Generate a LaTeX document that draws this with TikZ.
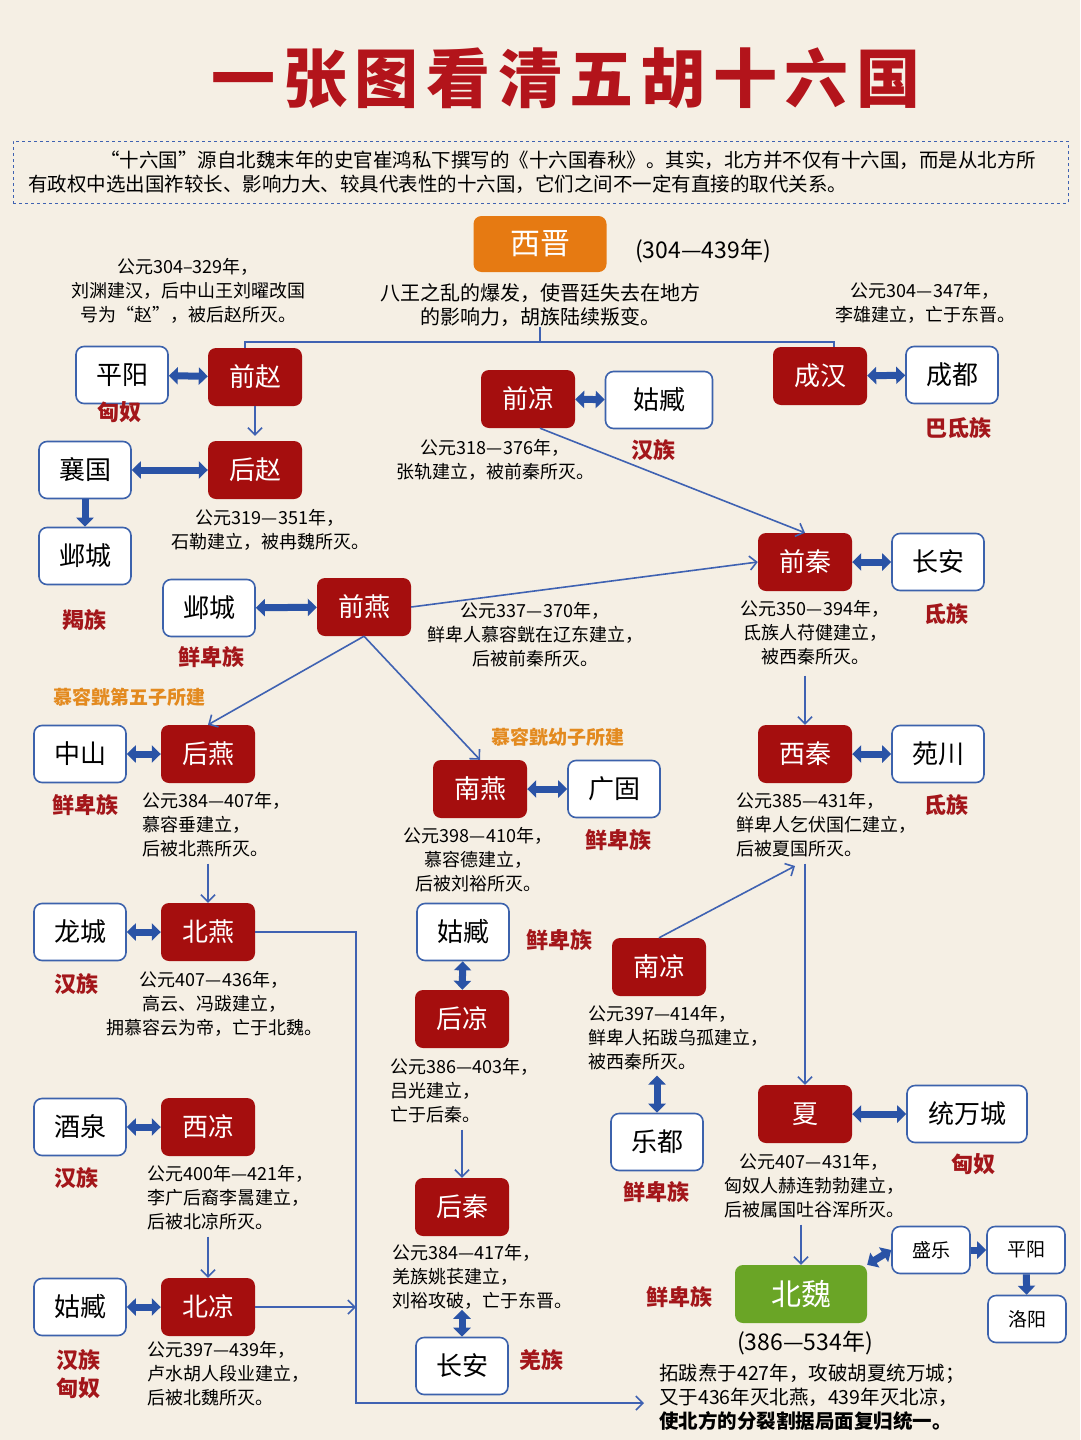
\documentclass[tikz,border=0pt]{standalone}
\usepackage{fontspec}
\setmainfont{Noto Sans CJK SC}
\usetikzlibrary{arrows.meta,positioning}
\definecolor{bgcream}{HTML}{F5EFE4}
\definecolor{kingred}{HTML}{A50E0E}
\definecolor{cityblue}{HTML}{3C62AC}
\definecolor{arrblue}{HTML}{2A53A6}
\definecolor{lineblue}{HTML}{3F62B2}
\definecolor{tribered}{HTML}{A3161A}
\definecolor{sonorange}{HTML}{E38A1F}
\definecolor{jinorange}{HTML}{E67A12}
\definecolor{weigreen}{HTML}{6AA526}
\definecolor{titlered}{HTML}{B3141B}
\newcommand{\fsz}[2]{\fontsize{#1}{#2}\selectfont}
\tikzset{
  kingdom/.style={fill=kingred,rounded corners=8pt,text=white,minimum width=94pt,minimum height=58pt,inner sep=0pt,font=\fsz{26}{30}},
  city/.style={draw=cityblue,line width=1.6pt,fill=white,rounded corners=8pt,minimum width=92pt,minimum height=57pt,inner sep=0pt,font=\fsz{26}{30}},
  smallcity/.style={city,minimum width=78pt,minimum height=47pt,font=\fsz{19}{22}},
  tribe/.style={text=tribered,inner sep=0pt,font=\bfseries\fsz{22}{28}},
  founder/.style={text=sonorange,inner sep=0pt,font=\bfseries\fsz{19}{22}},
  note/.style={align=center,inner sep=0pt,font=\fsz{18}{24}},
  lnote/.style={note,align=left,anchor=west},
  twoway/.style={{Triangle[width=17pt,length=9pt]}-{Triangle[width=17pt,length=9pt]},line width=7pt,arrblue},
  oneway/.style={-{Triangle[width=17pt,length=9pt]},line width=7pt,arrblue},
  thinline/.style={line width=1.6pt,lineblue},
  thinarr/.style={thinline,-{Straight Barb[length=7pt,width=14pt]}}
}
\begin{document}
\begin{tikzpicture}[x=1pt,y=-1pt]
\useasboundingbox (0,0) rectangle (1080,1440);
\fill[bgcream] (0,0) rectangle (1080,1440);

\node[text=titlered,font=\bfseries\fsz{64}{70}\addfontfeature{LetterSpace=12}] (title) at (566,78) {一张图看清五胡十六国};
\node[draw=lineblue,dashed,line width=1pt,minimum width=1055pt,minimum height=62pt,inner sep=0pt] (introbox) at (540.5,172) {};
\node[anchor=west,inner sep=0pt,font=\fsz{19.5}{24}] (intro1) at (100,160) {“十六国”源自北魏末年的史官崔鸿私下撰写的《十六国春秋》。其实，北方并不仅有十六国，而是从北方所};
\node[anchor=west,inner sep=0pt,font=\fsz{19.5}{24}] (intro2) at (28,184) {有政权中选出国祚较长、影响力大、较具代表性的十六国，它们之间不一定有直接的取代关系。};

\node[kingdom,fill=jinorange,minimum width=133pt,minimum height=56pt,font=\fsz{30}{34}] (xijin) at (540,244) {西晋};
\node[inner sep=0pt,font=\fsz{23}{26}] (xijinyear) at (703,251) {(304—439年)};
\node[note,font=\fsz{20}{24}] (xijinnote) at (540,305) {八王之乱的爆发，使晋廷失去在地方\\的影响力，胡族陆续叛变。};

\node[kingdom] (qianzhao) at (255,377) {前赵};
\node[kingdom] (houzhao) at (255,470) {后赵};
\node[kingdom] (qianliang) at (528,399) {前凉};
\node[kingdom] (chenghan) at (820,376) {成汉};
\node[kingdom] (qianqin) at (805,562) {前秦};
\node[kingdom] (qianyan) at (364,607) {前燕};
\node[kingdom] (houyan) at (208,754) {后燕};
\node[kingdom] (nanyan) at (480,789) {南燕};
\node[kingdom] (xiqin) at (805,754) {西秦};
\node[kingdom] (beiyan) at (208,932) {北燕};
\node[kingdom] (houliang) at (462,1019) {后凉};
\node[kingdom] (nanliang) at (659,967) {南凉};
\node[kingdom] (xiliang) at (208,1127) {西凉};
\node[kingdom] (houqin) at (462,1207) {后秦};
\node[kingdom] (xia) at (805,1114) {夏};
\node[kingdom] (beiliang) at (208,1307) {北凉};
\node[kingdom,fill=weigreen,minimum width=132pt,font=\fsz{30}{34}] (beiwei) at (801,1294) {北魏};

\node[city] (pingyang) at (122,375) {平阳};
\node[city] (xiangguo) at (85,470) {襄国};
\node[city] (yecheng) at (85,556) {邺城};
\node[city] (yecheng2) at (209,608) {邺城};
\node[city,minimum width=107pt] (guzang) at (659,400) {姑臧};
\node[city] (chengdu) at (952,375) {成都};
\node[city] (changan) at (938,562) {长安};
\node[city] (yuanchuan) at (938,754) {苑川};
\node[city] (zhongshan) at (80,754) {中山};
\node[city] (guanggu) at (614,789) {广固};
\node[city] (longcheng) at (80,932) {龙城};
\node[city] (guzang2) at (463,932) {姑臧};
\node[city] (jiuquan) at (80,1127) {酒泉};
\node[city] (guzang3) at (80,1307) {姑臧};
\node[city] (changan2) at (462,1366) {长安};
\node[city] (ledu) at (657,1142) {乐都};
\node[city,minimum width=120pt] (tongwan) at (967,1114) {统万城};
\node[smallcity] (shengle) at (931,1250) {盛乐};
\node[smallcity] (pingyang2) at (1026,1250) {平阳};
\node[smallcity] (luoyang) at (1027,1319) {洛阳};

\node[note] (qianzhaonote) at (188,291) {公元304–329年，\\刘渊建汉，后中山王刘曜改国\\号为“赵”，被后赵所灭。};
\node[note] (chenghannote) at (925,303) {公元304—347年，\\李雄建立，亡于东晋。};
\node[note] (qianliangnote) at (495,460) {公元318—376年，\\张轨建立，被前秦所灭。};
\node[note] (houzhaonote) at (270,530) {公元319—351年，\\石勒建立，被冉魏所灭。};
\node[note] (qianyannote) at (535,635) {公元337—370年，\\鲜卑人慕容皝在辽东建立，\\后被前秦所灭。};
\node[note] (qianqinnote) at (815,633) {公元350—394年，\\氐族人苻健建立，\\被西秦所灭。};
\node[lnote] (houyannote) at (142,825) {公元384—407年，\\慕容垂建立，\\后被北燕所灭。};
\node[note] (nanyannote) at (478,860) {公元398—410年，\\慕容德建立，\\后被刘裕所灭。};
\node[lnote] (xiqinnote) at (736,825) {公元385—431年，\\鲜卑人乞伏国仁建立，\\后被夏国所灭。};
\node[note] (beiyannote) at (214,1004) {公元407—436年，\\高云、冯跋建立，\\拥慕容云为帝，亡于北魏。};
\node[lnote] (houliangnote) at (390,1091) {公元386—403年，\\吕光建立，\\亡于后秦。};
\node[lnote] (nanliangnote) at (588,1038) {公元397—414年，\\鲜卑人拓跋乌孤建立，\\被西秦所灭。};
\node[lnote] (xiliangnote) at (147,1198) {公元400年—421年，\\李广后裔李暠建立，\\后被北凉所灭。};
\node[lnote] (houqinnote) at (392,1277) {公元384—417年，\\羌族姚苌建立，\\刘裕攻破，亡于东晋。};
\node[note] (xianote) at (814,1186) {公元407—431年，\\匈奴人赫连勃勃建立，\\后被属国吐谷浑所灭。};
\node[lnote] (beiliangnote) at (147,1374) {公元397—439年，\\卢水胡人段业建立，\\后被北魏所灭。};
\node[inner sep=0pt,font=\fsz{23}{26}] (beiweiyear) at (805,1343) {(386—534年)};
\node[lnote,font=\fsz{19.5}{24}] (beiweinote) at (659,1397) {拓跋焘于427年，攻破胡夏统万城；\\又于436年灭北燕，439年灭北凉，\\\textbf{使北方的分裂割据局面复归统一。}};

\node[tribe] (xiongnu1) at (119,412) {匈奴};
\node[tribe] (jie) at (84,620) {羯族};
\node[tribe] (xianbei1) at (211,657) {鲜卑族};
\node[tribe] (han1) at (653,450) {汉族};
\node[tribe] (badi) at (958,428) {巴氐族};
\node[tribe] (di1) at (946,614) {氐族};
\node[tribe] (di2) at (946,805) {氐族};
\node[tribe] (xianbei2) at (85,805) {鲜卑族};
\node[tribe] (xianbei3) at (618,840) {鲜卑族};
\node[tribe] (han2) at (76,984) {汉族};
\node[tribe] (xianbei4) at (559,940) {鲜卑族};
\node[tribe] (han3) at (76,1178) {汉族};
\node[tribe] (xianbei5) at (656,1192) {鲜卑族};
\node[tribe] (xiongnu2) at (973,1164) {匈奴};
\node[tribe,align=center] (hanxiongnu) at (78,1374) {汉族\\匈奴};
\node[tribe] (qiang) at (541,1360) {羌族};
\node[tribe] (xianbei6) at (679,1297) {鲜卑族};
\node[founder] (fifthson) at (129,697) {慕容皝第五子所建};
\node[founder] (youngson) at (558,737) {慕容皝幼子所建};

\coordinate (jinbar) at (540,342);
\draw[thinline] (xijinnote.south) -- (jinbar);
\draw[thinline] ([xshift=-10pt]qianzhao.north) |- (jinbar) -| ([xshift=14pt]chenghan.north);
\draw[thinarr,shorten >=5pt] (qianzhao) -- (houzhao);
\draw[thinarr] ([xshift=12pt]qianliang.south) -- (qianqin.north);
\draw[thinarr] (qianyan.east) -- (qianqin.west);
\draw[thinarr] (qianyan.south) -- (houyan.north);
\draw[thinarr] (qianyan.south) -- (nanyan.north);
\draw[thinarr,shorten <=10pt] (xiqin.north |- qianqinnote.south) -- (xiqin.north);
\draw[thinarr,shorten <=6pt] (beiyan.north |- houyannote.south) -- (beiyan.north);
\coordinate (xiqinend) at (795,866);
\draw[thinarr] (nanliang.north) -- (xiqinend);
\draw[thinarr,shorten <=6pt] (xia.north |- xiqinnote.south) -- (xia.north);
\draw[thinarr,shorten <=6pt] (houqin.north |- houliangnote.south) -- (houqin.north);
\draw[thinarr,shorten <=6pt] (beiliang.north |- xiliangnote.south) -- (beiliang.north);
\draw[thinarr,shorten <=6pt] (beiwei.north |- xianote.south) -- (beiwei.north);
\coordinate (eastbar) at (356,1403);
\draw[thinarr,shorten >=15pt] (beiyan.east) -| (eastbar) -- (beiweinote.west |- eastbar);
\draw[thinarr] (beiliang.east) -- (beiliang.east -| eastbar);

\draw[twoway] (pingyang) -- (qianzhao);
\draw[twoway] (xiangguo) -- (houzhao);
\draw[oneway] (xiangguo) -- (yecheng);
\draw[twoway] (yecheng2) -- (qianyan);
\draw[twoway] (qianliang) -- (guzang);
\draw[twoway] (chenghan) -- (chengdu);
\draw[twoway] (qianqin) -- (changan);
\draw[twoway] (zhongshan) -- (houyan);
\draw[twoway] (nanyan) -- (guanggu);
\draw[twoway] (xiqin) -- (yuanchuan);
\draw[twoway] (longcheng) -- (beiyan);
\draw[twoway] (guzang2) -- (houliang);
\draw[twoway] (jiuquan) -- (xiliang);
\draw[twoway] (guzang3) -- (beiliang);
\draw[twoway,shorten <=5pt] (ledu.north |- nanliangnote.south) -- (ledu.north);
\draw[twoway] (changan2.north |- houqinnote.south) -- (changan2.north);
\draw[twoway] (xia) -- (tongwan);
\draw[twoway] (beiwei.north east) -- (shengle.west);
\draw[oneway] (shengle) -- (pingyang2);
\draw[oneway] (pingyang2) -- (luoyang);
\end{tikzpicture}
\end{document}
